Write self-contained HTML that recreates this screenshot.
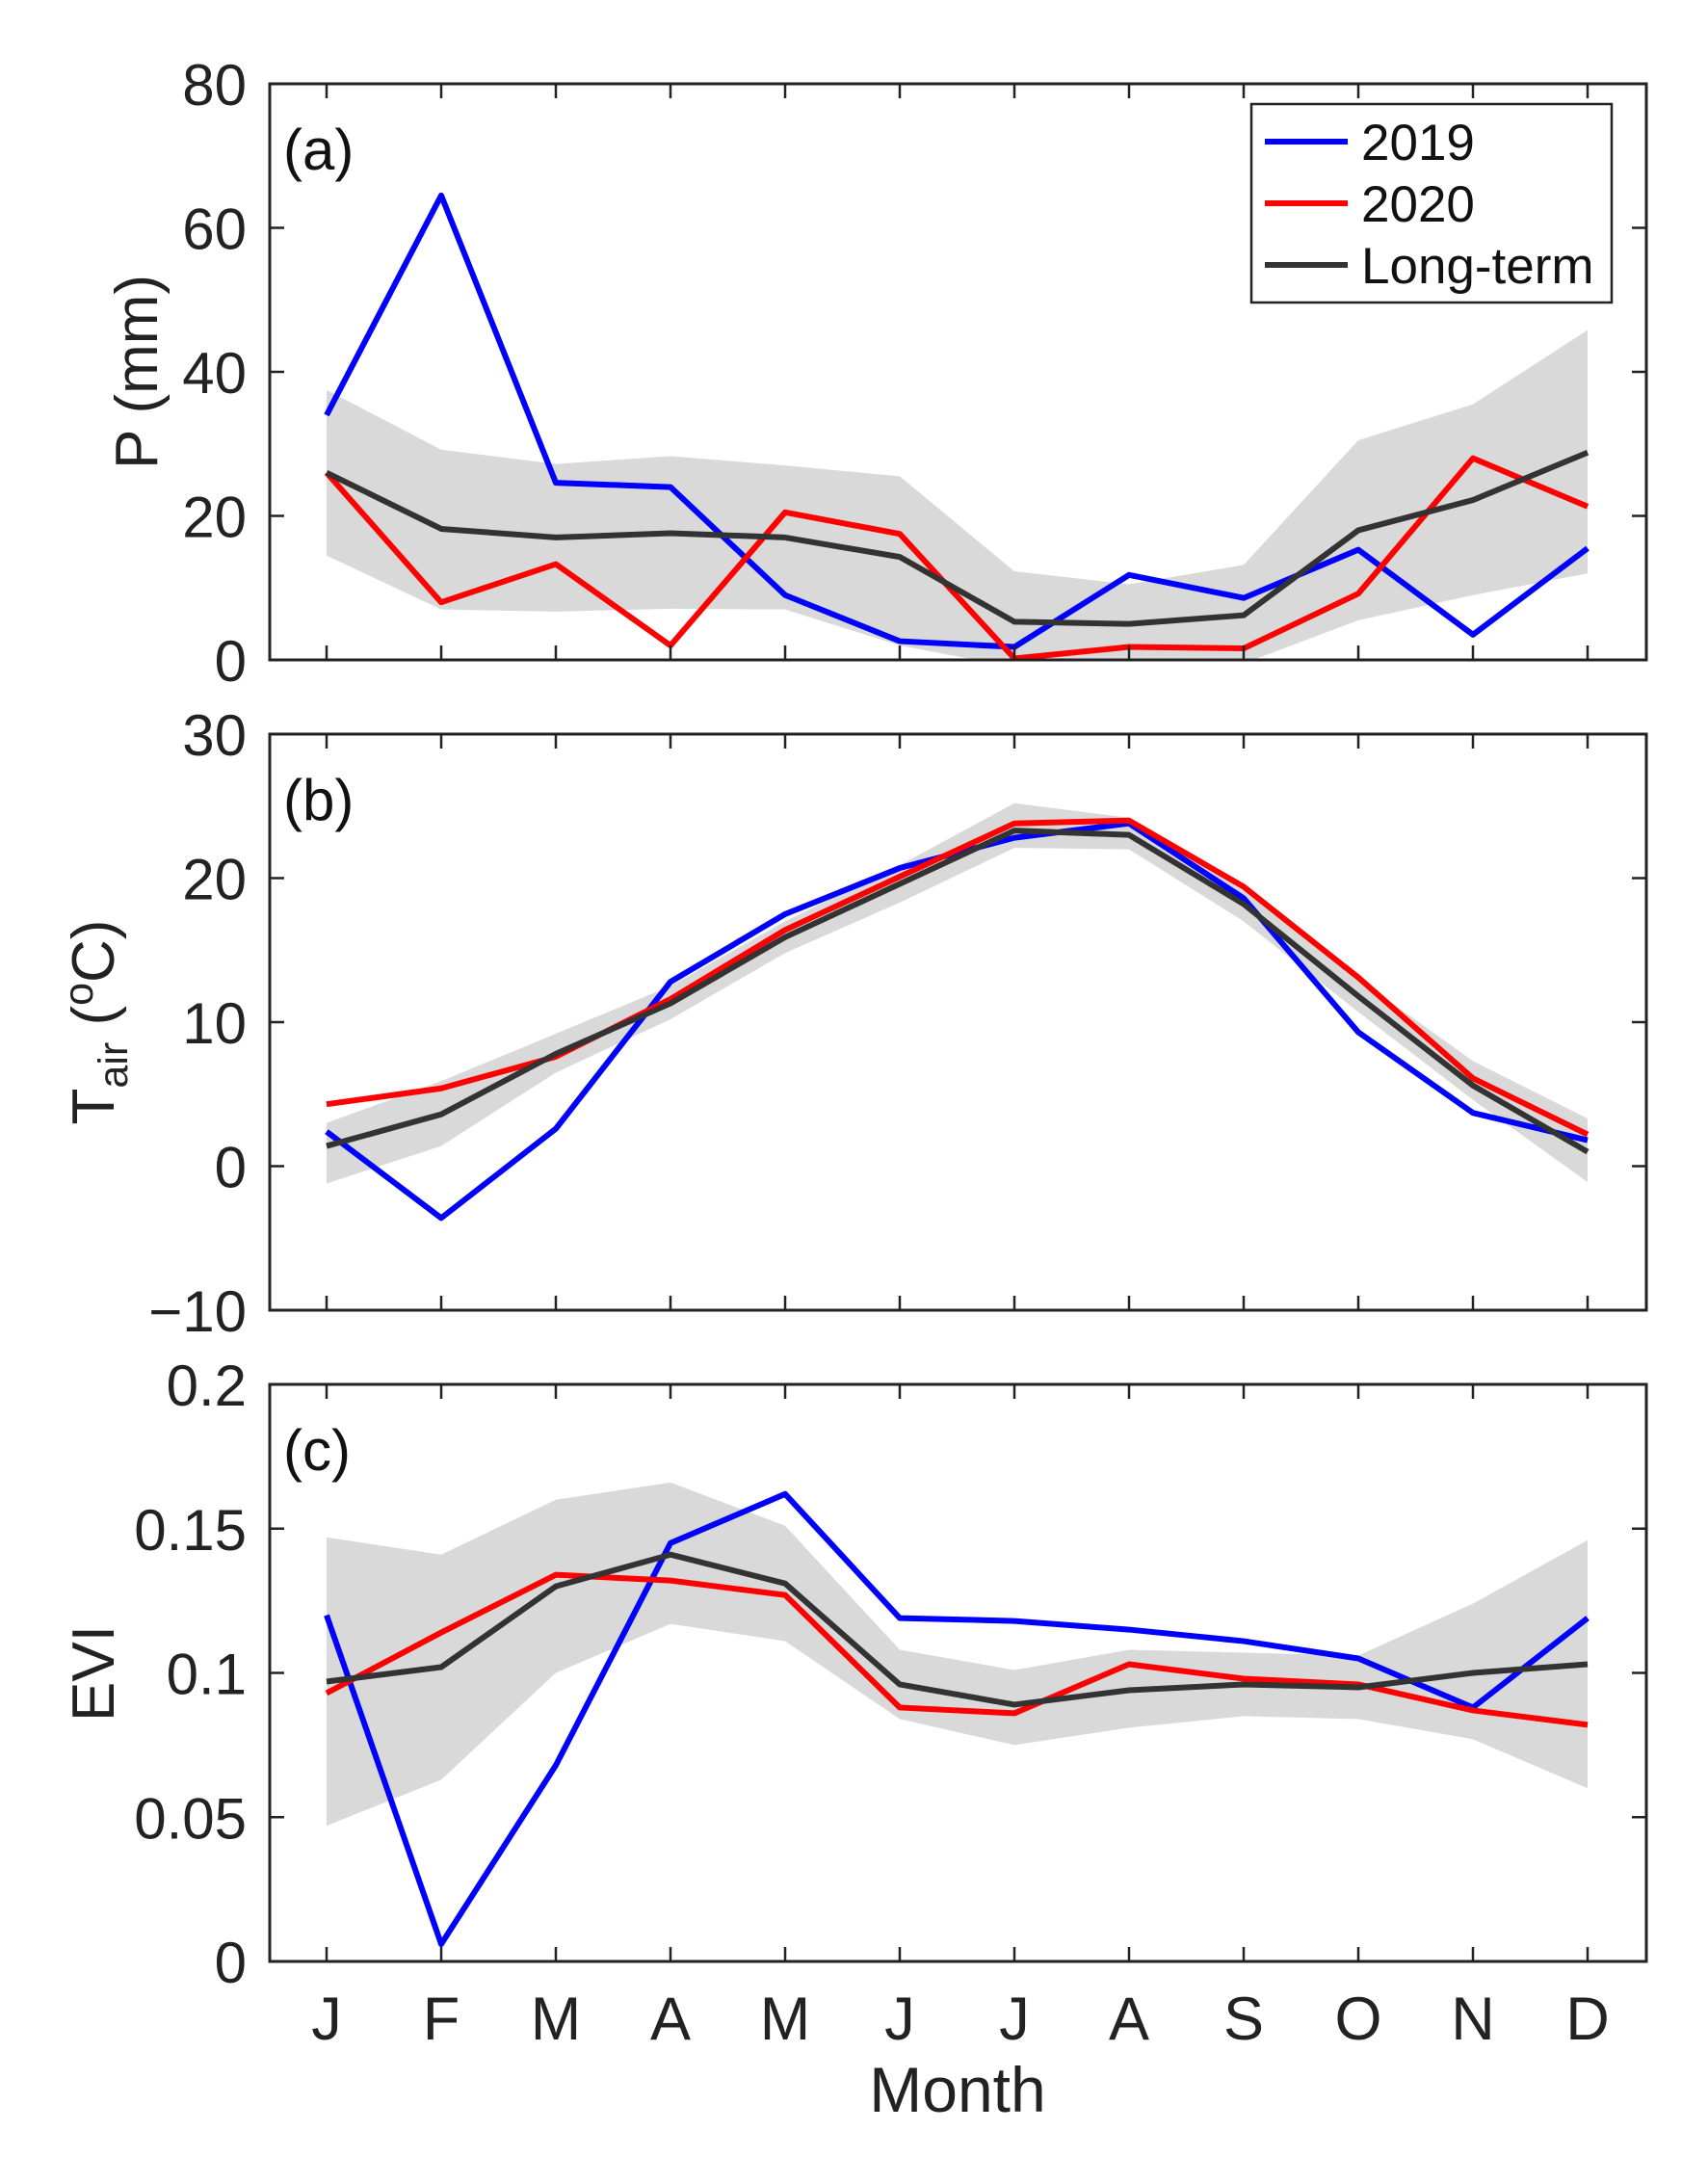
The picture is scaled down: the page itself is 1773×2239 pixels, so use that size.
<!DOCTYPE html>
<html><head><meta charset="utf-8"><style>
html,body{margin:0;padding:0;background:#fff;}
svg{display:block;font-family:"Liberation Sans",Arial,sans-serif;}
</style></head><body>
<svg id="chart" width="1773" height="2239" viewBox="0 0 1773 2239" xmlns="http://www.w3.org/2000/svg"></svg>
<script>
const months = ["J","F","M","A","M","J","J","A","S","O","N","D"];
const pTicks = [0,20,40,60,80];
const p2019 = [34,64.5,24.6,24,9,2.6,1.8,11.8,8.6,15.3,3.5,15.5];
const p2020 = [26,8,13.3,2,20.5,17.5,0.2,1.8,1.6,9.2,28,21.3];
const pLong = [26,18.2,17,17.6,17,14.3,5.3,5,6.2,18,22.2,28.8];
const pUpper = [37.5,29.2,27.2,28.3,27,25.5,12.3,10.5,13.2,30.5,35.5,45.8];
const pLower = [14.5,7,6.7,7.1,7,2,-1,-0.5,-0.5,5.5,9,12];
const tTicks = [-10,0,10,20,30];
const t2019 = [2.4,-3.6,2.6,12.8,17.5,20.7,22.8,23.8,18.6,9.3,3.7,1.8];
const t2020 = [4.3,5.4,7.6,11.6,16.4,20.1,23.8,24.0,19.4,13.1,6.1,2.2];
const tLong = [1.4,3.6,7.8,11.3,15.9,19.6,23.3,23.0,18.2,11.8,5.6,1.0];
const tUpper = [3.0,5.9,9.2,12.5,17.0,20.9,25.2,24.2,19.1,13.0,7.3,3.3];
const tLower = [-1.2,1.4,6.5,10.2,14.8,18.3,22.1,22.0,17.0,10.7,4.6,-1.1];
const eTicks = [0,0.05,0.1,0.15,0.2];
const eTickLabels = ["0","0.05","0.1","0.15","0.2"];
const e2019 = [0.120,0.006,0.068,0.145,0.162,0.119,0.118,0.115,0.111,0.105,0.088,0.119];
const e2020 = [0.093,0.114,0.134,0.132,0.127,0.088,0.086,0.103,0.098,0.096,0.087,0.082];
const eLong = [0.097,0.102,0.130,0.141,0.131,0.096,0.089,0.094,0.096,0.095,0.100,0.103];
const eUpper = [0.147,0.141,0.160,0.166,0.151,0.108,0.101,0.108,0.107,0.106,0.124,0.146];
const eLower = [0.047,0.063,0.100,0.117,0.111,0.084,0.075,0.081,0.085,0.084,0.077,0.060];

const NS="http://www.w3.org/2000/svg";
const svg=document.getElementById('chart');
const L=280,R=1709,X0=339,X1=1648;
function xs(i){return X0+(X1-X0)*i/(months.length-1);}
function mk(tag,attrs,parent){const e=document.createElementNS(NS,tag);for(const k in attrs)e.setAttribute(k,attrs[k]);(parent||svg).appendChild(e);return e;}

function panel(cfg){
  const g=mk('g',{});
  
  
  const ys=v=>cfg.bot-(v-cfg.min)/(cfg.max-cfg.min)*(cfg.bot-cfg.top);
  const clipId='clip-'+cfg.name;
  const cp=mk('clipPath',{id:clipId},g);
  mk('rect',{x:L,y:cfg.top,width:R-L,height:cfg.bot-cfg.top},cp);
  let d='';
  cfg.up.forEach((v,i)=>{d+=(i?'L':'M')+xs(i)+' '+ys(v)+' ';});
  for(let i=cfg.lo.length-1;i>=0;i--)d+='L'+xs(i)+' '+ys(cfg.lo[i])+' ';
  const band=mk('path',{d:d+'Z',fill:'#d9d9d9','clip-path':'url(#'+clipId+')'},g);
  
  
  [[cfg.s19,'#0000ff','line-2019'],[cfg.s20,'#ff0000','line-2020'],[cfg.long,'#333333','long-term-line']].forEach(s=>{
    const pts=s[0].map((v,i)=>xs(i)+','+ys(v)).join(' ');
    const pl=mk('polyline',{points:pts,fill:'none',stroke:s[1],'stroke-width':6,'stroke-linejoin':'round','clip-path':'url(#'+clipId+')'},g);
    
    
  });
  const box=mk('rect',{x:L,y:cfg.top,width:R-L,height:cfg.bot-cfg.top,fill:'none',stroke:'#222','stroke-width':3},g);
  
  
  months.forEach((m,i)=>{
    mk('line',{x1:xs(i),x2:xs(i),y1:cfg.bot,y2:cfg.bot-15,stroke:'#222','stroke-width':2.5},g);
    mk('line',{x1:xs(i),x2:xs(i),y1:cfg.top,y2:cfg.top+15,stroke:'#222','stroke-width':2.5},g);
  });
  cfg.ticks.forEach((v,i)=>{
    const y=ys(v);
    mk('line',{x1:L,x2:L+15,y1:y,y2:y,stroke:'#222','stroke-width':2.5},g);
    mk('line',{x1:R,x2:R-15,y1:y,y2:y,stroke:'#222','stroke-width':2.5},g);
    const t=mk('text',{x:256,y:y+22,'text-anchor':'end','font-size':60,fill:'#222'},g);
    t.textContent=cfg.labels?cfg.labels[i]:(v<0?'\u2212'+(-v):String(v));
    
    
  });
  const pl=mk('text',{x:294,y:cfg.top+89,'font-size':60,fill:'#111'},g);
  pl.textContent=cfg.tag;
  
  
  return g;
}
panel({name:'panel-precip',top:87,bot:685,min:0,max:80,ticks:pTicks,s19:p2019,s20:p2020,long:pLong,up:pUpper,lo:pLower,tag:'(a)'});
panel({name:'panel-temp',top:762,bot:1360,min:-10,max:30,ticks:tTicks,s19:t2019,s20:t2020,long:tLong,up:tUpper,lo:tLower,tag:'(b)'});
panel({name:'panel-evi',top:1437,bot:2036,min:0,max:0.2,ticks:eTicks,labels:eTickLabels,s19:e2019,s20:e2020,long:eLong,up:eUpper,lo:eLower,tag:'(c)'});

months.forEach((m,i)=>{
  const t=mk('text',{x:xs(i),y:2117,'text-anchor':'middle','font-size':63,fill:'#222'});
  t.textContent=m;
  
  
});
const xt=mk('text',{x:994,y:2192,'text-anchor':'middle','font-size':66,fill:'#222'});
xt.textContent='Month';



const y1=mk('text',{transform:'translate(163,386) rotate(-90)','text-anchor':'middle','font-size':62,fill:'#222'});
y1.textContent='P (mm)';


const y2=mk('text',{transform:'translate(118,1061) rotate(-90)','text-anchor':'middle','font-size':62,fill:'#222'});
y2.innerHTML='T<tspan font-size="43" dy="14">air</tspan><tspan dy="-14"> (</tspan><tspan font-size="43" dy="-22">o</tspan><tspan dy="22">C)</tspan>';


const y3=mk('text',{transform:'translate(118,1737) rotate(-90)','text-anchor':'middle','font-size':62,fill:'#222'});
y3.textContent='EVI';



const lg=mk('g',{});


mk('rect',{x:1299,y:108,width:374,height:206,fill:'#fff',stroke:'#222','stroke-width':2.5},lg);
const legendNames=['2019','2020','Long-term'];
const legendColors=['#0000ff','#ff0000','#333333'];
legendNames.forEach((n,i)=>{
  const y=147+i*64;
  const ln=mk('line',{x1:1313,x2:1399,y1:y,y2:y,stroke:legendColors[i],'stroke-width':6},lg);
  
  
  const t=mk('text',{x:1413,y:y+19,'font-size':53,fill:'#111'},lg);
  t.textContent=n;
  
  
});
</script>
</body></html>
